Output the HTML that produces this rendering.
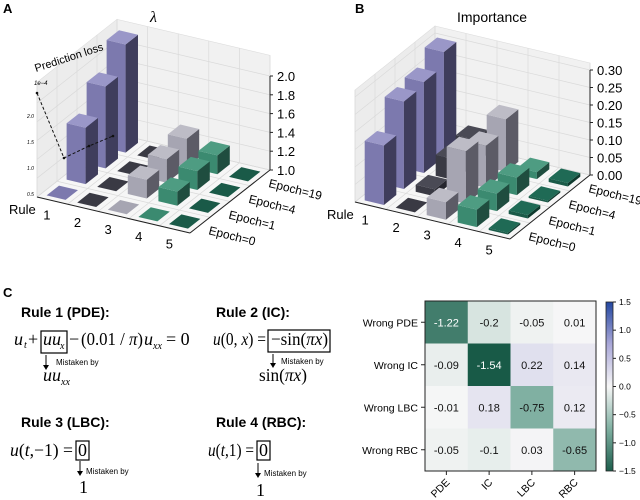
<!DOCTYPE html>
<html><head><meta charset="utf-8"><style>
body{margin:0;background:#fff;}
svg{display:block;font-family:"Liberation Sans",sans-serif;}
.eq{font-family:"Liberation Serif",serif;font-size:18px;}
</style></head><body>
<svg id="fig" width="640" height="500" viewBox="0 0 640 500" xmlns="http://www.w3.org/2000/svg">
<defs>
<linearGradient id="cbar" x1="0" y1="1" x2="0" y2="0">
<stop offset="0" stop-color="#1d5e4c"/><stop offset="0.25" stop-color="#80b0a2"/><stop offset="0.5" stop-color="#f7f7f7"/><stop offset="0.75" stop-color="#aaa8d8"/><stop offset="1" stop-color="#2347a0"/>
</linearGradient>
</defs>
<text x="3" y="13" font-weight="bold" font-size="13">A</text>
<text x="355" y="13" font-weight="bold" font-size="13">B</text>
<text x="3" y="297" font-weight="bold" font-size="13">C</text>
<text x="150" y="22" font-family="Liberation Serif,serif" font-style="italic" font-size="16">λ</text>
<text x="457" y="22" font-size="14">Importance</text>
<g id="pa"></g>
<g id="pb"></g>
<g id="eqs">
<text x="21" y="317" font-weight="bold" font-size="14">Rule 1 (PDE):</text>
<g class="eq">
<text x="14" y="345" font-style="italic">u</text><text x="24" y="348" font-size="10" font-style="italic">t</text>
<text x="28" y="345">+</text>
<text x="43" y="345" font-style="italic">uu</text><text x="60" y="349" font-size="10" font-style="italic">x</text>
<text x="69" y="345">−</text>
<text x="81" y="345" textLength="62" lengthAdjust="spacingAndGlyphs">(0.01 / <tspan font-style="italic">π</tspan>)</text>
<text x="144" y="345" font-style="italic">u</text><text x="153" y="349" font-size="10" font-style="italic">xx</text>
<text x="166" y="345">= 0</text>
</g>
<rect x="41" y="331" width="26" height="22" fill="none" stroke="#000" stroke-width="1.2"/>
<line x1="46" y1="355" x2="46" y2="368" stroke="#000"/><path d="M43,365 L46,370 L49,365Z"/>
<text x="56" y="365" font-size="8">Mistaken by</text>
<g class="eq"><text x="43" y="381" font-style="italic">uu</text><text x="61" y="385" font-size="10" font-style="italic">xx</text></g>
<text x="216" y="317" font-weight="bold" font-size="14">Rule 2 (IC):</text>
<g class="eq">
<text x="213" y="345" textLength="53" lengthAdjust="spacingAndGlyphs"><tspan font-style="italic">u</tspan>(0, <tspan font-style="italic">x</tspan>) =</text>
<text x="271" y="345" textLength="57" lengthAdjust="spacingAndGlyphs">−sin(<tspan font-style="italic">πx</tspan>)</text>
</g>
<rect x="268" y="330" width="62" height="22" fill="none" stroke="#000" stroke-width="1.2"/>
<line x1="273" y1="354" x2="273" y2="366" stroke="#000"/><path d="M270,363 L273,368 L276,363Z"/>
<text x="281" y="364" font-size="8">Mistaken by</text>
<text class="eq" x="259" y="381" textLength="48" lengthAdjust="spacingAndGlyphs">sin(<tspan font-style="italic">πx</tspan>)</text>
<text x="21" y="427" font-weight="bold" font-size="14">Rule 3 (LBC):</text>
<g class="eq">
<text x="10" y="456" textLength="63" lengthAdjust="spacingAndGlyphs"><tspan font-style="italic">u</tspan>(<tspan font-style="italic">t</tspan>,−1) =</text>
<text x="78" y="456">0</text>
</g>
<rect x="76" y="441" width="13" height="19" fill="none" stroke="#000" stroke-width="1.2"/>
<line x1="80" y1="461" x2="80" y2="474" stroke="#000"/><path d="M77,471 L80,476 L83,471Z"/>
<text x="86" y="474" font-size="8">Mistaken by</text>
<text class="eq" x="79" y="493">1</text>
<text x="216" y="427" font-weight="bold" font-size="14">Rule 4 (RBC):</text>
<g class="eq">
<text x="208" y="456" textLength="46" lengthAdjust="spacingAndGlyphs"><tspan font-style="italic">u</tspan>(<tspan font-style="italic">t</tspan>,1) =</text>
<text x="259" y="456">0</text>
</g>
<rect x="257" y="441" width="13" height="19" fill="none" stroke="#000" stroke-width="1.2"/>
<line x1="258" y1="463" x2="258" y2="476" stroke="#000"/><path d="M255,473 L258,478 L261,473Z"/>
<text x="264" y="476" font-size="8">Mistaken by</text>
<text class="eq" x="256" y="496">1</text>
</g>
<g id="hm"></g>
</svg>
<script>
// ---- 3D bar data ----
const lambdaRule1 = [1.0, 1.6, 1.87, 2.15];
const lambdaRule2 = [1.0, 1.0, 1.0, 1.0];
const lambdaRule3 = [1.0, 1.2, 1.25, 1.3];
const lambdaRule4 = [1.0, 1.15, 1.2, 1.2];
const lambdaRule5 = [1.0, 1.0, 1.0, 1.0];
const impRule1 = [0.17, 0.25, 0.26, 0.30];
const impRule2 = [0.0, 0.02, 0.06, 0.07];
const impRule3 = [0.05, 0.15, 0.12, 0.15];
const impRule4 = [0.05, 0.05, 0.05, 0.02];
const impRule5 = [0.005, 0.01, 0.005, 0.01];
const ruleLabels = ["1","2","3","4","5"];
const epochLabels = ["Epoch=0","Epoch=1","Epoch=4","Epoch=19"];
const lambdaTicks = [1.0,1.2,1.4,1.6,1.8,2.0];
const impTicks = [0.00,0.05,0.10,0.15,0.20,0.25,0.30];
// ---- heatmap data ----
const hmRows = ["Wrong PDE","Wrong IC","Wrong LBC","Wrong RBC"];
const hmCols = ["PDE","IC","LBC","RBC"];
const hmRow0 = [-1.22,-0.2,-0.05,0.01];
const hmRow1 = [-0.09,-1.54,0.22,0.14];
const hmRow2 = [-0.01,0.18,-0.75,0.12];
const hmRow3 = [-0.05,-0.1,0.03,-0.65];
const cbTicks = [1.5,1.0,0.5,0.0,-0.5,-1.0,-1.5];

const NS="http://www.w3.org/2000/svg";
function mk(tag,attrs,parent){const e=document.createElementNS(NS,tag);for(const k in attrs)e.setAttribute(k,attrs[k]);parent.appendChild(e);return e;}
const palettes=[
 {top:"#9a97c8",front:"#7c79ae",side:"#3f3d5c"},
 {top:"#4a4a55",front:"#3a3a44",side:"#26262e"},
 {top:"#bdbcc6",front:"#a6a5b2",side:"#5c5b66"},
 {top:"#4e9c82",front:"#3b8a70",side:"#1f4d3f"},
 {top:"#1f6a55",front:"#1a5a48",side:"#0f3a2e"}];

function panel3d(g,cfg,data,ticks,fmt){
  const P=(r,e,z)=>[cfg.O[0]+r*cfg.ru[0]+e*cfg.eu[0], cfg.O[1]+r*cfg.ru[1]+e*cfg.eu[1]-(z-cfg.zmin)*cfg.zs];
  const pts=a=>a.map(p=>p.join(",")).join(" ");
  const fl=mk("polygon",{points:pts([P(0,0,cfg.zmin),P(5,0,cfg.zmin),P(5,4,cfg.zmin),P(0,4,cfg.zmin)]),fill:"#f6f6f6",stroke:"#ccc","stroke-width":0.6},g);
  
  
  const bw=mk("polygon",{points:pts([P(0,4,cfg.zmin),P(5,4,cfg.zmin),P(5,4,cfg.zmax),P(0,4,cfg.zmax)]),fill:"#f1f1f1",stroke:"#ddd","stroke-width":0.6},g);
  
  
  const lw=mk("polygon",{points:pts([P(0,0,cfg.zmin),P(0,4,cfg.zmin),P(0,4,cfg.zmax),P(0,0,cfg.zmax)]),fill:"#ececec",stroke:"#ddd","stroke-width":0.6},g);
  
  
  const gl=(a,b)=>mk("line",{x1:a[0],y1:a[1],x2:b[0],y2:b[1],stroke:"#dadada","stroke-width":0.7},g);
  for(let i=0;i<=5;i++){gl(P(i,4,cfg.zmin),P(i,4,cfg.zmax));gl(P(i,0,cfg.zmin),P(i,4,cfg.zmin));}
  for(let j=0;j<=4;j++){gl(P(0,j,cfg.zmin),P(0,j,cfg.zmax));gl(P(0,j,cfg.zmin),P(5,j,cfg.zmin));}
  ticks.forEach(t=>{gl(P(0,0,t),P(0,4,t));gl(P(0,4,t),P(5,4,t));});
  const ax=(a,b)=>mk("line",{x1:a[0],y1:a[1],x2:b[0],y2:b[1],stroke:"#222","stroke-width":1},g);
  ax(P(0,0,cfg.zmin),P(5,0,cfg.zmin));ax(P(5,0,cfg.zmin),P(5,4,cfg.zmin));ax(P(5,4,cfg.zmin),P(5,4,ticks[ticks.length-1]));
  ticks.forEach(t=>{const p=P(5,4,t);ax(p,[p[0]+3,p[1]]);
    const tx=mk("text",{x:p[0]+7,y:p[1]+5,"font-size":13},g);tx.textContent=fmt(t);
    
    });
  ruleLabels.forEach((l,i)=>{const p=P(i+0.5,0,cfg.zmin);
    const tx=mk("text",{x:p[0]-9,y:p[1]+19,"font-size":13},g);tx.textContent=l;
    
    });
  const rp=P(0,0,cfg.zmin);
  const rl=mk("text",{x:rp[0]-28,y:rp[1]+17,"font-size":13},g);rl.textContent="Rule";
  
  
  epochLabels.forEach((l,j)=>{const p=P(5,j+0.5,cfg.zmin);
    const tx=mk("text",{x:p[0]+8,y:p[1]+9,"font-size":12,transform:`rotate(14 ${p[0]+8} ${p[1]+9})`},g);tx.textContent=l;
    
    });
  const s=0.62;
  for(let j=3;j>=0;j--)for(let i=0;i<5;i++){
    let v=data[i][j];let flat=v<=cfg.zmin+cfg.eps; if(flat)v=cfg.zmin+0.0001;
    const r0=i+0.5-s/2,r1=i+0.5+s/2,e0=j+0.5-s/2,e1=j+0.5+s/2,z0=cfg.zmin,pal=palettes[i];
    const bg=mk("g",{},g);
    
    
    if(!flat){
      mk("polygon",{points:pts([P(r0,e0,z0),P(r1,e0,z0),P(r1,e0,v),P(r0,e0,v)]),fill:pal.front},bg);
      mk("polygon",{points:pts([P(r1,e0,z0),P(r1,e1,z0),P(r1,e1,v),P(r1,e0,v)]),fill:pal.side},bg);
    }
    mk("polygon",{points:pts([P(r0,e0,v),P(r1,e0,v),P(r1,e1,v),P(r0,e1,v)]),fill:flat?pal.front:pal.top},bg);
  }
}
const A=document.getElementById("pa"),B=document.getElementById("pb");
panel3d(A,{O:[37,197],ru:[30.6,7.2],eu:[20,-15.75],zs:94,zmin:1.0,zmax:2.22,eps:0.02},
  [lambdaRule1,lambdaRule2,lambdaRule3,lambdaRule4,lambdaRule5],lambdaTicks,t=>t.toFixed(1));
panel3d(B,{O:[355,202],ru:[31,7.4],eu:[20,-16],zs:350,zmin:0,zmax:0.32,eps:0.003},
  [impRule1,impRule2,impRule3,impRule4,impRule5],impTicks,t=>t.toFixed(2));
(function(){
  const g=mk("g",{},A);
  
  
  mk("polyline",{points:"37,93 64,158 89,146 113,136",fill:"none",stroke:"#111","stroke-width":1,"stroke-dasharray":"3,2"},g);
  [[37,93],[64,158],[89,146],[113,136]].forEach(p=>mk("circle",{cx:p[0],cy:p[1],r:1.3,fill:"#111"},g));
  const t=mk("text",{x:36,y:72,"font-size":11,transform:"rotate(-18 36 72)"},g);t.textContent="Prediction loss";
  
  
  const e=mk("text",{x:34,y:85,"font-size":6,"font-style":"italic"},g);e.textContent="1e−4";
  
  
  ["2.0","1.5","1.0","0.5"].forEach((l,k)=>{const x=mk("text",{x:27,y:118+k*26,"font-size":5,"font-style":"italic"},g);x.textContent=l;
    
    });
})();
(function(){
  const g=document.getElementById("hm");
  const vals=[hmRow0,hmRow1,hmRow2,hmRow3];
  const x0=425,y0=301,cw=42.75,ch=42.5;
  const stops=[[-1.5,[29,94,76]],[-0.75,[128,176,162]],[0,[247,247,247]],[0.75,[170,168,216]],[1.5,[35,71,160]]];
  function col(v){for(let k=0;k<stops.length-1;k++){const a=stops[k],b=stops[k+1];if(v<=b[0]){const t=(v-a[0])/(b[0]-a[0]);return "rgb("+a[1].map((c,i)=>Math.round(c+(b[1][i]-c)*t)).join(",")+")";}}return "rgb(35,71,160)";}
  vals.forEach((row,r)=>row.forEach((v,c)=>{
    const rc=mk("rect",{x:x0+c*cw,y:y0+r*ch,width:cw+0.5,height:ch+0.5,fill:col(v)},g);
    
    
    const t=mk("text",{x:x0+c*cw+cw/2,y:y0+r*ch+ch/2+4,"font-size":11,"text-anchor":"middle",fill:v<-0.9?"#fff":"#111"},g);t.textContent=String(v);
    
    
  }));
  mk("rect",{x:x0,y:y0,width:cw*4,height:ch*4,fill:"none",stroke:"#222","stroke-width":1},g);
  hmRows.forEach((l,r)=>{const y=y0+r*ch+ch/2;mk("line",{x1:x0-4,y1:y,x2:x0,y2:y,stroke:"#222"},g);
    const t=mk("text",{x:x0-7,y:y+4,"font-size":10.5,"text-anchor":"end"},g);t.textContent=l;
    
    });
  hmCols.forEach((l,c)=>{const x=x0+c*cw+cw/2;mk("line",{x1:x,y1:y0+ch*4,x2:x,y2:y0+ch*4+4,stroke:"#222"},g);
    const t=mk("text",{x:x+4,y:y0+ch*4+12,"font-size":10.5,"text-anchor":"end",transform:`rotate(-45 ${x+4} ${y0+ch*4+12})`},g);t.textContent=l;
    
    });
  const cb=mk("rect",{x:606,y:302,width:7,height:169,fill:"url(#cbar)",stroke:"#222","stroke-width":0.8},g);
  
  
  cbTicks.forEach(v=>{const y=302+(1.5-v)/3*169;mk("line",{x1:613,y1:y,x2:616,y2:y,stroke:"#222"},g);
    const t=mk("text",{x:619,y:y+3,"font-size":8.5},g);t.textContent=(v<0?"−":"")+Math.abs(v).toFixed(1);
    
    });
})();
</script>
</body></html>
